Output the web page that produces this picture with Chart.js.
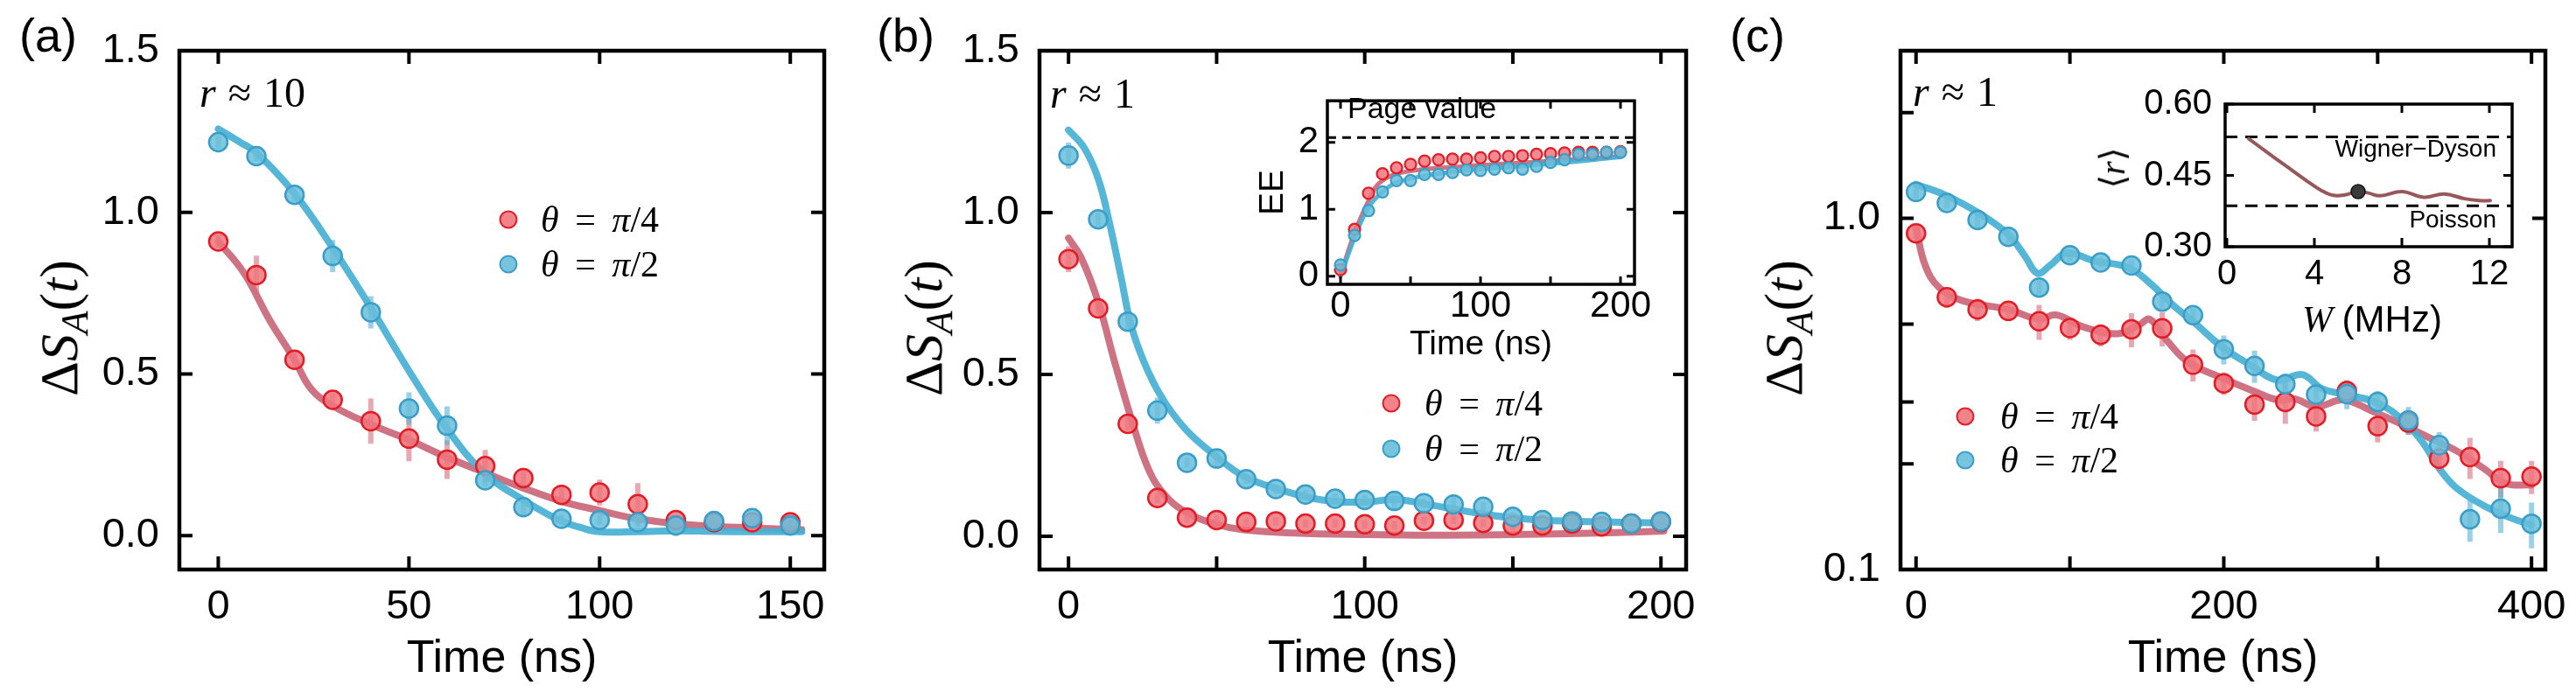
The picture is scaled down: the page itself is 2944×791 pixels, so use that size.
<!DOCTYPE html>
<html><head><meta charset="utf-8">
<script src="https://cdn.jsdelivr.net/npm/chart.js@4.4.1/dist/chart.umd.min.js"></script>
<style>
html,body{margin:0;padding:0;background:#fff;}
#wrap{position:relative;width:2944px;height:791px;overflow:hidden;background:#fff;}
canvas{position:absolute;}
.t{position:absolute;white-space:nowrap;color:#000;line-height:1;}
.sans{font-family:'Liberation Sans',Arial,sans-serif;}
.serif{font-family:'Liberation Serif','DejaVu Serif',serif;}
.rot{transform:translate(-50%,-50%) rotate(-90deg);}
.mid{transform:translate(0,-50%);}
.ctr{transform:translate(-50%,-50%);}
.rgt{transform:translate(-100%,-50%);}
.mk{position:absolute;width:21px;height:21px;border-radius:50%;box-sizing:border-box;transform:translate(-50%,-50%);}
.mkr{background:rgba(240,118,126,0.9);border:2.5px solid rgb(228,28,38);}
.mkb{background:rgba(104,190,218,0.9);border:2.5px solid rgb(58,158,200);}
</style></head><body><div id="wrap">
<canvas id="ca" width="990" height="791" style="left:0;top:0;width:990px;height:791px"></canvas>
<canvas id="cb" width="990" height="791" style="left:990px;top:0;width:990px;height:791px"></canvas>
<canvas id="cc" width="980" height="791" style="left:1980px;top:0;width:980px;height:791px"></canvas>
<canvas id="cbi" width="490" height="345" style="left:1420px;top:80px;width:490px;height:345px"></canvas>
<canvas id="cci" width="540" height="320" style="left:2380px;top:80px;width:540px;height:320px"></canvas>

<div class="t sans mid" style="left:22px;top:40px;font-size:54px">(a)</div>
<div class="t sans mid" style="left:1002px;top:40px;font-size:54px">(b)</div>
<div class="t sans mid" style="left:1977px;top:40px;font-size:54px">(c)</div>

<div class="t serif rot" style="left:72px;top:375px;font-size:62px">Δ<i>S</i><sub style="font-size:0.7em;vertical-align:-0.28em"><i>A</i></sub>(<i>t</i>)</div>
<div class="t serif rot" style="left:1060px;top:375px;font-size:62px">Δ<i>S</i><sub style="font-size:0.7em;vertical-align:-0.28em"><i>A</i></sub>(<i>t</i>)</div>
<div class="t serif rot" style="left:2043px;top:375px;font-size:62px">Δ<i>S</i><sub style="font-size:0.7em;vertical-align:-0.28em"><i>A</i></sub>(<i>t</i>)</div>

<div class="t serif mid" style="left:228px;top:106px;font-size:48px;word-spacing:2px"><i>r</i> ≈ 10</div>
<div class="t serif mid" style="left:1200px;top:107px;font-size:48px;word-spacing:2px"><i>r</i> ≈ 1</div>
<div class="t serif mid" style="left:2186px;top:105px;font-size:48px;word-spacing:2px"><i>r</i> ≈ 1</div>

<div class="mk mkr" style="left:581px;top:251px"></div>
<div class="mk mkb" style="left:581px;top:302px"></div>
<div class="t serif mid" style="left:618px;top:251px;font-size:42px;word-spacing:8px"><i>θ</i> = <i>π</i>/4</div>
<div class="t serif mid" style="left:618px;top:302px;font-size:42px;word-spacing:8px"><i>θ</i> = <i>π</i>/2</div>

<div class="mk mkr" style="left:1590px;top:461px"></div>
<div class="mk mkb" style="left:1590px;top:513px"></div>
<div class="t serif mid" style="left:1628px;top:461px;font-size:42px;word-spacing:8px"><i>θ</i> = <i>π</i>/4</div>
<div class="t serif mid" style="left:1628px;top:513px;font-size:42px;word-spacing:8px"><i>θ</i> = <i>π</i>/2</div>

<div class="mk mkr" style="left:2246px;top:476px"></div>
<div class="mk mkb" style="left:2246px;top:526px"></div>
<div class="t serif mid" style="left:2286px;top:476px;font-size:42px;word-spacing:8px"><i>θ</i> = <i>π</i>/4</div>
<div class="t serif mid" style="left:2286px;top:526px;font-size:42px;word-spacing:8px"><i>θ</i> = <i>π</i>/2</div>

<div class="t sans mid" style="left:1540px;top:123px;font-size:34px">Page value</div>
<div class="t sans rgt" style="left:2853px;top:170px;font-size:28px">Wigner−Dyson</div>
<div class="t sans rgt" style="left:2853px;top:251px;font-size:28px">Poisson</div>
<div class="t serif rot" style="left:2415px;top:192px;font-size:40px">⟨<i>r</i>⟩</div>
<div class="t ctr" style="left:2711px;top:365px;font-size:42px"><i class="serif">W</i> <span class="sans">(MHz)</span></div>
</div>
<script>
// ---------------- data ----------------
// panel (a)
const aTime = [0,10,20,30,40,50,60,70,80,90,100,110,120,130,140,150];
const aQuarter = [0.91,0.806,0.544,0.42,0.354,0.30,0.235,0.215,0.178,0.126,0.133,0.097,0.048,0.041,0.041,0.041];
const aQuarterErr = [0.02,0.06,0.03,0.02,0.07,0.07,0.06,0.05,0.025,0.03,0.04,0.065,0.015,0.015,0.015,0.015];
const aHalf = [1.217,1.174,1.054,0.865,0.691,0.393,0.34,0.171,0.088,0.052,0.048,0.041,0.031,0.045,0.054,0.031];
const aHalfErr = [0.02,0.015,0.02,0.05,0.05,0.05,0.06,0.02,0.025,0.015,0.015,0.015,0.015,0.02,0.02,0.015];
const aFitQuarterT = [0,6.7,13.6,19.8,24.4,30.5,40,50,60,70,80,90,99.4,109,119,129,139,153];
const aFitQuarterV = [0.91,0.813,0.664,0.548,0.453,0.398,0.344,0.296,0.242,0.194,0.147,0.106,0.079,0.054,0.038,0.029,0.024,0.018];
const aFitHalfT = [0,6,10,20,30,40,50,60,70,80,85,90,95,100,110,120,130,140,153];
const aFitHalfV = [1.258,1.215,1.185,1.058,0.89,0.705,0.51,0.33,0.19,0.11,0.075,0.045,0.025,0.012,0.012,0.015,0.013,0.012,0.012];
const aXTicks = [0,50,100,150];
const aXLabels = ['0','50','100','150'];
const aYTicks = [0,0.5,1.0,1.5];
const aYLabels = ['0.0','0.5','1.0','1.5'];

// panel (b)
const bTime = [0,10,20,30,40,50,60,70,80,90,100,110,120,130,140,150,160,170,180,190,200];
const bQuarter = [0.856,0.704,0.347,0.118,0.057,0.050,0.044,0.046,0.039,0.039,0.037,0.033,0.048,0.050,0.041,0.033,0.033,0.039,0.030,0.039,0.044];
const bQuarterErr = [0.04,0.02,0.02,0.015,0.015,0.015,0.012,0.012,0.012,0.012,0.012,0.012,0.012,0.012,0.012,0.012,0.012,0.012,0.012,0.012,0.012];
const bHalf = [1.176,0.979,0.663,0.388,0.227,0.240,0.176,0.146,0.129,0.116,0.112,0.109,0.102,0.098,0.091,0.060,0.050,0.046,0.044,0.039,0.046];
const bHalfErr = [0.04,0.02,0.03,0.04,0.015,0.03,0.015,0.015,0.015,0.015,0.015,0.03,0.015,0.03,0.015,0.015,0.015,0.015,0.015,0.015,0.015];
const bFitHalfT = [0,5.3,10,13.8,17.6,21.4,27,32.7,40.3,49.7,59,70.5,85.6,100,110,120,130,140,150,161,180,200];
const bFitHalfV = [1.255,1.2,1.105,0.969,0.806,0.643,0.506,0.411,0.323,0.248,0.186,0.146,0.112,0.105,0.114,0.1,0.084,0.068,0.057,0.049,0.044,0.041];
const bFitQuarterT = [0,4.3,10,15.7,21.4,27,32.7,40.3,49.7,59,76,100,123,150,180,201];
const bFitQuarterV = [0.921,0.86,0.724,0.534,0.357,0.207,0.125,0.071,0.037,0.02,0.01,0.005,0.003,0.005,0.01,0.016];
const bXTicks = [0,50,100,150,200];
const bXLabels = ['0','','100','','200'];
const bYTicks = [0,0.5,1.0,1.5];
const bYLabels = ['0.0','0.5','1.0','1.5'];

// inset of (b): entanglement entropy
const biTime = [0,10,20,30,40,50,60,70,80,90,100,110,120,130,140,150,160,170,180,190,200];
const biQuarter = [0.10,0.70,1.24,1.53,1.62,1.67,1.72,1.74,1.75,1.75,1.77,1.79,1.79,1.80,1.82,1.83,1.84,1.85,1.85,1.85,1.86];
const biHalf = [0.17,0.61,0.98,1.26,1.43,1.43,1.52,1.52,1.55,1.59,1.58,1.60,1.62,1.60,1.64,1.70,1.74,1.82,1.82,1.85,1.85];
const biFitQuarterT = [0,10,20,25,30,40,60,80,100,150,200];
const biFitQuarterV = [0.02,0.65,1.13,1.33,1.43,1.53,1.60,1.63,1.66,1.72,1.79];
const biFitHalfT = [0,10,20,30,40,60,80,100,150,200];
const biFitHalfV = [0,0.57,1.03,1.26,1.40,1.50,1.56,1.60,1.68,1.78];
const biPageValue = [2.07];
const biXTicks = [0,50,100,150,200];
const biXLabels = ['0','','100','','200'];
const biYTicks = [0,1,2];
const biYLabels = ['0','1','2'];

// panel (c)
const cTime = [0,20,40,60,80,100,120,140,160,180,200,220,240,260,280,300,320,340,360,380,400];
const cQuarter = [0.906,0.596,0.55,0.545,0.509,0.487,0.466,0.483,0.486,0.383,0.339,0.295,0.300,0.273,0.322,0.256,0.262,0.207,0.209,0.182,0.184];
const cQuarterErr = [0.03,0.04,0.04,0.035,0.058,0.036,0.034,0.054,0.054,0.04,0.025,0.03,0.04,0.026,0.023,0.026,0.02,0.016,0.028,0.022,0.02];
const cHalf = [1.189,1.106,0.989,0.886,0.635,0.785,0.749,0.734,0.579,0.53,0.424,0.380,0.337,0.315,0.316,0.300,0.266,0.226,0.139,0.149,0.135];
const cHalfErr = [0.05,0.04,0.05,0.04,0.03,0.03,0.025,0.03,0.025,0.025,0.04,0.04,0.025,0.015,0.03,0.022,0.024,0.02,0.019,0.022,0.02];
const cFitHalfT = [0,18.8,40.4,60,71,79,87,98,116,138,152,167,181,199,217,235,251,264,282,300,316,329,340,351,369,387,400];
const cFitHalfV = [1.25,1.166,1.038,0.899,0.778,0.697,0.734,0.796,0.756,0.724,0.654,0.566,0.504,0.43,0.383,0.346,0.359,0.327,0.313,0.298,0.267,0.231,0.194,0.171,0.152,0.14,0.134];
const cFitQuarterT = [0,6,15,30,60,80,91,109,131,145,152,163,177,199,221,235,246,260,278,296,315,333,351,369,383,400];
const cFitQuarterV = [0.938,0.734,0.635,0.583,0.55,0.516,0.531,0.49,0.469,0.497,0.516,0.449,0.389,0.351,0.32,0.304,0.306,0.291,0.304,0.283,0.26,0.238,0.218,0.194,0.176,0.174];
const cXTicks = [0,100,200,300,400];
const cXLabels = ['0','','200','','400'];
const cYTicks = [0.1,0.2,0.3,0.5,1,2];
const cYLabels = ['0.1','','','','1.0',''];

// inset of (c): mean level-spacing ratio vs disorder W
const ciW = [1.0,1.8,2.73,3.67,4.33,4.87,5.4,5.97,6.47,7,8,9,9.93,10.87,11.53,12.04];
const ciR = [0.527,0.50,0.469,0.438,0.418,0.408,0.409,0.416,0.413,0.407,0.416,0.404,0.411,0.401,0.397,0.397];
const ciMarkW = [6];
const ciMarkR = [0.416];
const ciLevels = [0.531, 0.386];   // Wigner-Dyson, Poisson
const ciXTicks = [0,4,8,12];
const ciXLabels = ['0','4','8','12'];
const ciYTicks = [0.30,0.45,0.60];
const ciYLabels = ['0.30','0.45','0.60'];

// ---------------- styling / helpers ----------------
const SANS = "'Liberation Sans', Arial, Helvetica, sans-serif";
const RED_PT = 'rgba(240,118,126,0.85)', RED_EDGE = 'rgb(228,28,38)';
const BLUE_PT = 'rgba(104,190,218,0.85)', BLUE_EDGE = 'rgb(58,158,200)';
const RED_FIT = 'rgba(200,100,118,0.9)', BLUE_FIT = 'rgba(72,176,212,0.92)';
const RED_ERR = 'rgba(214,112,128,0.6)', BLUE_ERR = 'rgba(88,178,214,0.6)';

function pts(xs, ys){ return xs.map((x,i)=>({x:x, y:ys[i]})); }
function bars(xs, ys, es){ const out=[]; xs.forEach((x,i)=>{ out.push({x:x,y:ys[i]-es[i]},{x:x,y:ys[i]+es[i]},{x:x,y:null}); }); return out; }
function fitDs(xs, ys, color, w, order){ return {data:pts(xs,ys), showLine:true, borderColor:color, borderWidth:w, pointRadius:0, pointHoverRadius:0, tension:0.4, fill:false, order:order, borderCapStyle:'round', borderJoinStyle:'round'}; }
function errDs(xs, ys, es, color, w, order){ return {data:bars(xs,ys,es), showLine:true, spanGaps:false, borderColor:color, borderWidth:w, pointRadius:0, pointHoverRadius:0, tension:0, order:order, borderCapStyle:'butt'}; }
function ptDs(xs, ys, fill, edge, r, bw, order){ return {data:pts(xs,ys), showLine:false, pointRadius:r, pointHoverRadius:r, pointBackgroundColor:fill, pointBorderColor:edge, pointBorderWidth:bw, backgroundColor:fill, borderColor:edge, order:order}; }
function hline(xmin, xmax, y, color, w, dash, order){ return {data:[{x:xmin,y:y},{x:xmax,y:y}], showLine:true, borderColor:color, borderWidth:w, borderDash:dash, pointRadius:0, pointHoverRadius:0, order:order}; }

function axis(o){
  return {
    type:o.type||'linear', min:o.min, max:o.max, position:o.isX?'bottom':'left',
    grid:{display:false, drawTicks:false}, border:{display:false},
    afterBuildTicks:s=>{ s.ticks = o.vals.map(v=>({value:v})); },
    afterFit:s=>{ if(o.isX) s.height=o.fit; else s.width=o.fit; },
    ticks:{autoSkip:false, maxRotation:0, minRotation:0, padding:o.pad, color:'#000', font:{family:SANS,size:o.size}, callback:(v,i)=>o.labels[i]},
    title:o.title ? {display:true, text:o.title.text, color:'#000', font:{family:SANS,size:o.title.size}, padding:o.title.padding} : {display:false}
  };
}

const framePlugin = {
  id:'frame',
  afterDraw(chart, args, o){
    const ctx=chart.ctx, a=chart.chartArea, x=chart.scales.x, y=chart.scales.y;
    ctx.save();
    ctx.strokeStyle='#000'; ctx.lineCap='butt';
    ctx.lineWidth=o.tw;
    ctx.beginPath();
    (o.xt||[]).forEach(v=>{ const p=x.getPixelForValue(v); ctx.moveTo(p,a.bottom); ctx.lineTo(p,a.bottom-o.len); ctx.moveTo(p,a.top); ctx.lineTo(p,a.top+o.len); });
    (o.yl||[]).forEach(v=>{ const p=y.getPixelForValue(v); ctx.moveTo(a.left,p); ctx.lineTo(a.left+o.len,p); });
    (o.yr||[]).forEach(v=>{ const p=y.getPixelForValue(v); ctx.moveTo(a.right,p); ctx.lineTo(a.right-o.len,p); });
    ctx.stroke();
    ctx.lineWidth=o.lw;
    ctx.strokeRect(a.left,a.top,a.right-a.left,a.bottom-a.top);
    ctx.restore();
  }
};

function make(id, datasets, scales, padding, frame){
  return new Chart(document.getElementById(id), {
    type:'scatter',
    data:{datasets:datasets},
    options:{
      responsive:false, animation:false, devicePixelRatio:1, events:[],
      layout:{padding:padding},
      plugins:{legend:{display:false}, tooltip:{enabled:false}, frame:frame},
      scales:scales
    },
    plugins:[framePlugin]
  });
}

const mainTitle = {text:'Time (ns)', size:52, padding:{top:0,bottom:6}};

// ---------------- panel (a) ----------------
make('ca', [
  ptDs(aTime, aHalf, BLUE_PT, BLUE_EDGE, 10.5, 2.5, 0),
  ptDs(aTime, aQuarter, RED_PT, RED_EDGE, 10.5, 2.5, 1),
  errDs(aTime, aHalf, aHalfErr, BLUE_ERR, 6, 2),
  errDs(aTime, aQuarter, aQuarterErr, RED_ERR, 6, 3),
  fitDs(aFitHalfT, aFitHalfV, BLUE_FIT, 8, 4),
  fitDs(aFitQuarterT, aFitQuarterV, RED_FIT, 8, 5)
], {
  x: axis({isX:true, min:-10.2, max:158.9, vals:aXTicks, labels:aXLabels, size:47, pad:15, fit:140, title:mainTitle}),
  y: axis({min:-0.105, max:1.5, vals:aYTicks, labels:aYLabels, size:47, pad:23, fit:205})
}, {left:0,right:48,top:58,bottom:0}, {lw:4.5, tw:4, len:15, xt:aXTicks, yl:aYTicks, yr:aYTicks});

// ---------------- panel (b) ----------------
make('cb', [
  ptDs(bTime, bHalf, BLUE_PT, BLUE_EDGE, 10.5, 2.5, 0),
  ptDs(bTime, bQuarter, RED_PT, RED_EDGE, 10.5, 2.5, 1),
  errDs(bTime, bHalf, bHalfErr, BLUE_ERR, 6, 2),
  errDs(bTime, bQuarter, bQuarterErr, RED_ERR, 6, 3),
  fitDs(bFitHalfT, bFitHalfV, BLUE_FIT, 8, 4),
  fitDs(bFitQuarterT, bFitQuarterV, RED_FIT, 8, 5)
], {
  x: axis({isX:true, min:-9.8, max:208.5, vals:bXTicks, labels:bXLabels, size:47, pad:15, fit:140, title:mainTitle}),
  y: axis({min:-0.103, max:1.5, vals:bYTicks, labels:bYLabels, size:47, pad:23, fit:198})
}, {left:0,right:53,top:58,bottom:0}, {lw:4.5, tw:4, len:15, xt:bXTicks, yl:bYTicks, yr:bYTicks});

// ---------------- panel (c) ----------------
make('cc', [
  ptDs(cTime, cHalf, BLUE_PT, BLUE_EDGE, 10.5, 2.5, 0),
  ptDs(cTime, cQuarter, RED_PT, RED_EDGE, 10.5, 2.5, 1),
  errDs(cTime, cHalf, cHalfErr, BLUE_ERR, 6, 2),
  errDs(cTime, cQuarter, cQuarterErr, RED_ERR, 6, 3),
  fitDs(cFitHalfT, cFitHalfV, BLUE_FIT, 8, 4),
  fitDs(cFitQuarterT, cFitQuarterV, RED_FIT, 8, 5)
], {
  x: axis({isX:true, min:-10.1, max:409, vals:cXTicks, labels:cXLabels, size:47, pad:15, fit:140, title:mainTitle}),
  y: axis({type:'logarithmic', min:0.1, max:3.0, vals:cYTicks, labels:cYLabels, size:47, pad:23, fit:192})
}, {left:0,right:51,top:58,bottom:0}, {lw:4.5, tw:4, len:15, xt:cXTicks, yl:cYTicks, yr:[1]});

// ---------------- inset (b) ----------------
make('cbi', [
  ptDs(biTime, biHalf, BLUE_PT, BLUE_EDGE, 6.5, 2.2, 0),
  ptDs(biTime, biQuarter, RED_PT, RED_EDGE, 6.5, 2.2, 1),
  fitDs(biFitHalfT, biFitHalfV, BLUE_FIT, 5, 2),
  fitDs(biFitQuarterT, biFitQuarterV, RED_FIT, 5, 3),
  hline(-9.4, 210, biPageValue[0], '#000', 3, [10,7], 4)
], {
  x: axis({isX:true, min:-9.4, max:210, vals:biXTicks, labels:biXLabels, size:42, pad:0, fit:100, title:{text:'Time (ns)', size:39, padding:{top:0,bottom:7}}}),
  y: axis({min:-0.12, max:2.62, vals:biYTicks, labels:biYLabels, size:42, pad:10, fit:97, title:{text:'EE', size:39, padding:{top:12,bottom:0}}})
}, {left:0,right:42,top:15,bottom:0}, {lw:3.5, tw:3, len:9, xt:biXTicks, yl:biYTicks, yr:biYTicks});

// ---------------- inset (c) ----------------
make('cci', [
  ptDs(ciMarkW, ciMarkR, 'rgb(58,58,58)', 'rgb(20,20,20)', 8, 1.5, 0),
  fitDs(ciW, ciR, 'rgb(150,88,90)', 4, 1),
  hline(-0.08, 13.04, ciLevels[0], '#000', 3, [14,9], 2),
  hline(-0.08, 13.04, ciLevels[1], '#000', 3, [14,9], 3)
], {
  x: axis({isX:true, min:-0.08, max:13.04, vals:ciXTicks, labels:ciXLabels, size:40, pad:8, fit:118}),
  y: axis({min:0.30, max:0.60, vals:ciYTicks, labels:ciYLabels, size:40, pad:15, fit:163})
}, {left:0,right:49,top:27,bottom:0}, {lw:3.5, tw:3, len:10, xt:ciXTicks, yl:ciYTicks, yr:ciYTicks});
</script>
</body></html>
